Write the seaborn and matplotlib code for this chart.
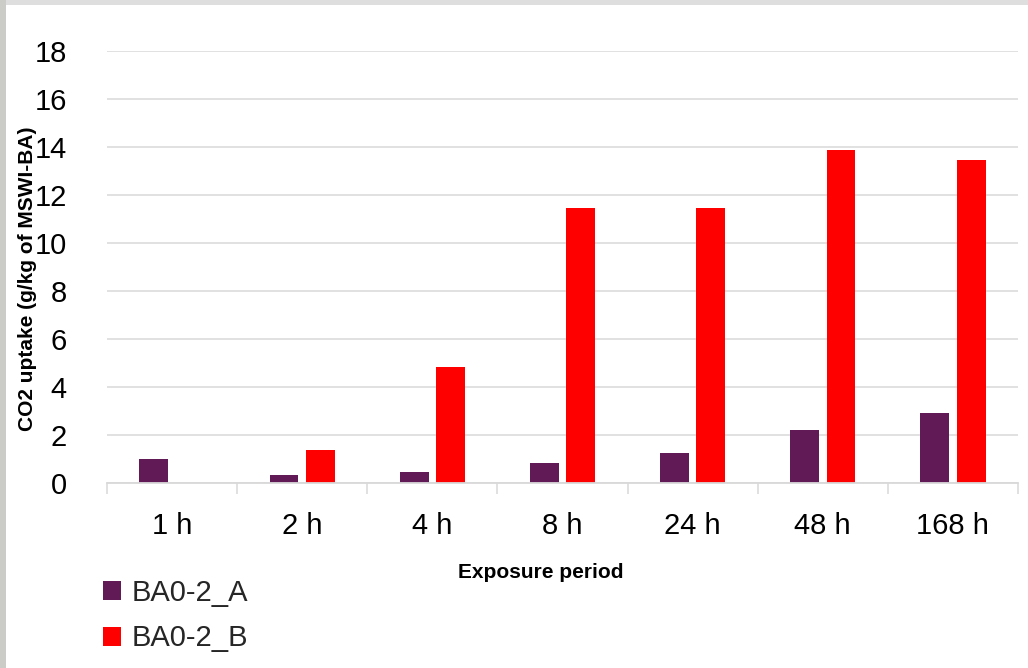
import matplotlib
matplotlib.use("Agg")
import matplotlib.pyplot as plt
from matplotlib.patches import Rectangle, Patch
import numpy as np
import pandas as pd
import seaborn as sns

# Exposure periods and CO2 uptake (g/kg of MSWI-BA) for the two samples
periods = ["1 h", "2 h", "4 h", "8 h", "24 h", "48 h", "168 h"]
uptake_a = [1.0, 0.3, 0.45, 0.8, 1.25, 2.2, 2.9]
uptake_b = [0.0, 1.35, 4.8, 11.45, 11.45, 13.85, 13.45]
series_names = ["BA0-2_A", "BA0-2_B"]
yticks = [0, 2, 4, 6, 8, 10, 12, 14, 16, 18]

colors = {"BA0-2_A": "#611a56", "BA0-2_B": "#ff0000"}

df = pd.DataFrame({
    "period": periods * 2,
    "uptake": uptake_a + uptake_b,
    "sample": [series_names[0]] * len(periods) + [series_names[1]] * len(periods),
})

sns.set_theme(style="white")
plt.rcParams["font.family"] = ["Liberation Sans", "DejaVu Sans"]

W, H = 1028, 668
fig = plt.figure(figsize=(W / 100, H / 100), dpi=100)
fig.patch.set_facecolor("white")

# light grey frame along the top and left edges
fig.patches.append(Rectangle((0, 1 - 5 / H), 1, 5 / H, transform=fig.transFigure,
                             facecolor="#dedede", edgecolor="none", zorder=0))
fig.patches.append(Rectangle((0, 0), 6 / W, 1, transform=fig.transFigure,
                             facecolor="#cbcbc7", edgecolor="none", zorder=0))

ax = fig.add_axes([107 / W, (H - 482.5) / H, 911 / W, 431.5 / H])
sns.barplot(data=df, x="period", y="uptake", hue="sample", order=periods,
            hue_order=series_names, palette=colors, width=0.56, gap=0.21,
            linewidth=0, saturation=1, errorbar=None, ax=ax)
ax.get_legend().remove()

ax.set_xlim(-0.5, len(periods) - 0.5)
ax.set_ylim(0, 18)
ax.set_yticks(yticks)
ax.set_yticklabels([str(v) for v in yticks])

grid_c = "#d9d9d9"
ax.yaxis.grid(True, color=grid_c, linewidth=1.1)
ax.set_axisbelow(True)
for s in ["top", "right", "left"]:
    ax.spines[s].set_visible(False)
ax.spines["bottom"].set_color(grid_c)
ax.spines["bottom"].set_linewidth(1.3)

# category separators as ticks below the axis
ax.set_xticks(np.arange(-0.5, len(periods)), minor=True)
ax.tick_params(axis="x", which="minor", length=8, width=1.1, color=grid_c, bottom=True)
ax.tick_params(axis="x", which="major", length=0, pad=21, labelsize=21, labelcolor="#000000")
ax.tick_params(axis="y", length=0, pad=29, labelsize=21, labelcolor="#000000")

ax.set_xlabel("")
ax.set_ylabel("")
fig.text(541 / W, (H - 577.7) / H, "Exposure period", ha="center", va="baseline",
         fontsize=15, fontweight="bold", color="#000000")
fig.text(28 / W, (H - 279) / H, "CO2 uptake (g/kg of MSWI-BA)", ha="center", va="center",
         rotation=90, fontsize=15, fontweight="bold", color="#000000")

handles = [Patch(facecolor=colors[n], edgecolor="none", label=n) for n in series_names]
fig.legend(handles=handles, loc="upper left", bbox_to_anchor=(103 / W, 1 - 579 / H),
           frameon=False, fontsize=21, handlelength=0.62, handleheight=0.62,
           handletextpad=0.35, labelspacing=0.6, borderpad=0, borderaxespad=0)

fig.savefig("out.png", dpi=100, facecolor=fig.get_facecolor())
